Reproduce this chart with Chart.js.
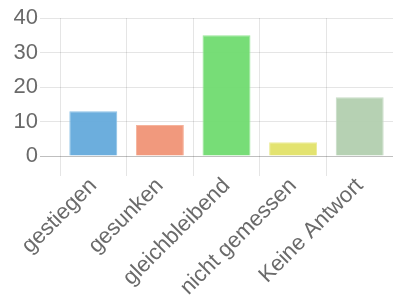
<!DOCTYPE html>
<html>
<head>
<meta charset="utf-8">
<script src="https://cdn.jsdelivr.net/npm/chart.js@4/dist/chart.umd.min.js"></script>
<style>
  html, body { margin: 0; padding: 0; background: #fff; overflow: hidden; }
  #wrap { width: 393px; height: 306px; position: relative; }
</style>
</head>
<body>
<div id="wrap"><canvas id="chart"></canvas></div>
<script>
// answer categories and counts
const categories = ['gestiegen', 'gesunken', 'gleichbleibend', 'nicht gemessen', 'Keine Antwort'];
const counts = [13, 9, 35, 4, 17];
const yTicks = [0, 10, 20, 30, 40];

const fills = ['rgba(100,170,219,0.95)', 'rgba(240,148,118,0.95)', 'rgba(112,219,112,0.95)', 'rgba(225,225,104,0.95)', 'rgba(178,207,175,0.95)'];
const borders = ['#8cc2e6', '#f5b39c', '#98e698', '#ecec98', '#c8dcc6'];

Chart.defaults.font.family = "'Liberation Sans', Arial, Helvetica, sans-serif";
Chart.defaults.color = '#6a6a6a';

const ctx = document.getElementById('chart').getContext('2d');
new Chart(ctx, {
  type: 'bar',
  data: {
    labels: categories,
    datasets: [{
      data: counts,
      backgroundColor: fills,
      borderColor: borders,
      borderWidth: 1
    }]
  },
  options: {
    responsive: true,
    maintainAspectRatio: false,
    animation: false,
    layout: { padding: { top: 18, left: 0, right: 0, bottom: 0 } },
    plugins: { legend: { display: false }, tooltip: { enabled: false } },
    scales: {
      x: {
        grid: { color: 'rgba(0,0,0,0.1)', tickLength: 20 },
        border: { display: false },
        ticks: { font: { size: 22 }, minRotation: 45, maxRotation: 45, padding: -3 },
        afterFit: s => { s.height = 150; }
      },
      y: {
        min: 0,
        max: 40,
        afterBuildTicks: s => { s.ticks = yTicks.map(v => ({ value: v })); },
        grid: {
          tickLength: 20,
          color: c => c.tick && c.tick.value === 0 ? 'rgba(0,0,0,0.25)' : 'rgba(0,0,0,0.1)'
        },
        border: { display: false },
        ticks: { font: { size: 22 }, padding: 2 },
        afterFit: s => { s.width = 60; }
      }
    }
  }
});
</script>
</body>
</html>
